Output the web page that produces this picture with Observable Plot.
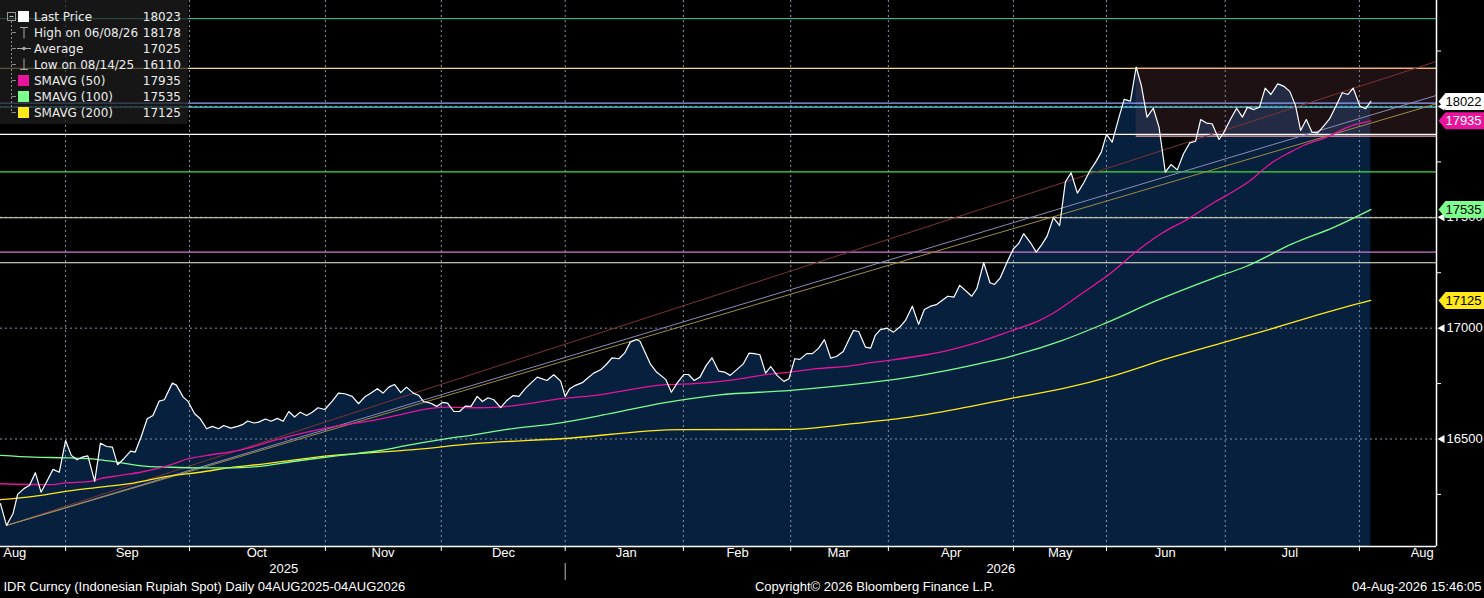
<!DOCTYPE html>
<html>
<head>
<meta charset="utf-8">
<script src="https://cdn.jsdelivr.net/npm/d3@7"></script>
<script src="https://cdn.jsdelivr.net/npm/@observablehq/plot@0.6"></script>
<style>
  html, body { margin: 0; padding: 0; background: #000; }
  #wrap { position: relative; width: 1484px; height: 598px; overflow: hidden; background: #000; }
  #legend { position: absolute; left: 0; top: 0; width: 188px; height: 124px;
    background: rgba(30,30,30,0.72); font-family: "DejaVu Sans", "Liberation Sans", sans-serif;
    font-size: 12px; color: #ececec; }
  #legend .row { position: absolute; left: 0; width: 188px; height: 16px; line-height: 16px; }
  #legend .lab { position: absolute; left: 34px; white-space: nowrap; }
  #legend .val { position: absolute; right: 7px; white-space: nowrap; }
  #legend .sq { position: absolute; left: 18px; top: 2px; width: 11px; height: 11px; }
  #legend svg { position: absolute; left: 0; top: 0; }
</style>
</head>
<body>
<div id="wrap">
  <div id="chart"></div>
  <div id="legend"></div>
</div>
<script>
// ---------- DATA (x = trading-session position, y = IDR per USD) ----------
const priceSess = [0,1.05,2.2,3.0,4.1,5.1,6.1,7.1,8.2,9.2,10.3,11.4,12.4,13.4,14.3,15.3,16.5,17.5,18.6,19.6,20.5,21.6,22.8,23.6,24.6,25.7,26.7,27.8,28.7,30.1,30.8,32.0,32.8,34.0,35.0,36.1,37.1,38.2,39.1,40.3,41.5,42.5,43.3,44.4,45.2,46.4,47.4,48.5,49.5,50.5,51.5,52.5,53.6,54.6,55.6,56.8,58.1,59.2,60.3,61.6,62.7,63.9,64.9,66.0,67.0,68.0,69.0,70.1,71.1,72.3,73.3,74.1,75.3,76.4,77.4,78.3,79.4,80.4,81.4,82.4,83.5,84.4,85.4,86.4,87.6,88.7,89.8,90.8,91.9,92.9,94.0,95.7,96.9,98.1,98.9,99.7,100.7,101.9,102.7,103.9,105.1,106.1,107.1,108.3,109.3,110.3,111.4,112.0,113.0,113.8,114.9,116.5,117.5,118.5,119.7,120.5,121.5,122.5,123.6,124.6,125.8,126.8,127.8,129.0,130.1,131.1,132.0,133.0,134.0,134.9,136.0,137.2,138.1,139.1,140.0,141.2,142.2,143.3,144.3,145.4,146.4,147.6,148.6,149.4,150.3,151.5,152.4,153.2,154.1,155.3,156.4,157.5,158.5,159.7,160.8,161.8,162.9,163.9,164.9,165.9,167.0,168.0,169.0,170.1,171.0,172.2,173.3,174.1,175.1,176.3,177.4,178.3,179.2,180.4,181.4,182.4,183.3,184.4,185.5,186.5,187.5,188.6,189.7,190.8,191.8,192.8,193.7,194.7,195.9,196.8,197.9,198.9,199.8,200.8,201.9,202.9,204.0,205.0,206.1,207.2,208.3,209.3,210.2,211.2,212.2,213.4,214.2,215.4,216.5,217.5,218.4,219.5,220.5,221.5,222.5,223.7,224.7,225.8,226.8,227.7,228.7,229.7,230.7,231.8,232.8,234.0,235.0,236.0,236.9,238.1,239.1,240.0];
const priceVal = [16208,16110,16164,16250,16276,16291,16348,16260,16313,16363,16350,16493,16426,16406,16418,16424,16309,16481,16466,16463,16384,16411,16445,16441,16508,16591,16606,16671,16677,16752,16743,16689,16671,16614,16591,16546,16557,16546,16561,16549,16557,16566,16581,16572,16576,16590,16580,16593,16580,16624,16599,16621,16606,16621,16641,16633,16671,16707,16704,16692,16659,16692,16707,16727,16707,16734,16746,16709,16734,16707,16696,16669,16662,16647,16665,16662,16624,16624,16648,16647,16692,16669,16686,16677,16641,16674,16696,16692,16727,16752,16779,16764,16790,16761,16692,16727,16742,16754,16772,16797,16812,16836,16866,16862,16887,16937,16949,16941,16885,16839,16802,16769,16711,16752,16791,16791,16764,16779,16832,16866,16806,16802,16787,16814,16839,16887,16885,16880,16797,16827,16787,16760,16772,16862,16859,16885,16885,16910,16948,16865,16872,16895,16949,16990,16985,16914,16910,16967,16993,17000,16982,17005,17035,17099,17017,17084,17099,17106,17125,17144,17140,17193,17170,17144,17178,17295,17205,17197,17227,17298,17358,17381,17426,17385,17343,17378,17415,17498,17463,17659,17701,17609,17655,17710,17749,17794,17874,17839,17952,18032,18024,18178,18095,17952,17992,17907,17704,17738,17714,17787,17836,17843,17941,17925,17922,17851,17880,17941,17992,17952,17997,17986,17997,18083,18054,18102,18092,18068,18005,17892,17941,17884,17881,17914,17945,18008,18062,18054,18083,18001,17990,18023];

const sma50Sess = [0,8.8,11,15.8,17.5,21,24.5,27.4,30.3,32.9,36.2,42,47.8,53.7,59.5,65.3,71.2,74.7,78.2,82.8,87.6,91.6,98.1,103.9,113.8,116.4,121.4,128.4,134.3,138.4,143,148.9,152.4,162.2,165.8,171.3,176.8,182,184.2,189.7,194.3,198.8,203.4,208,212.6,216.2,218.9,222.4,225.9,228.2,232.3,236.4,240];
const sma50Val  = [16298,16294,16301,16309,16321,16336,16350,16366,16388,16411,16426,16450,16493,16531,16561,16584,16617,16636,16644,16641,16644,16656,16682,16696,16737,16745,16750,16767,16791,16802,16817,16830,16844,16880,16899,16937,16986,17035,17065,17162,17245,17343,17428,17493,17568,17621,17666,17742,17794,17824,17862,17911,17935];

const sma100Sess = [0,5.8,11.7,17.5,20.4,25.7,29.2,35,40.8,43.8,52.5,59.5,66.5,71.2,77.1,82.9,88.7,98.1,107.2,116.4,125.6,138.4,149.4,158.5,171.3,176.8,186,193.3,202.5,212.6,218.1,226.3,233.6,240];
const sma100Val  = [16426,16418,16415,16406,16396,16376,16373,16370,16370,16373,16403,16426,16448,16471,16497,16519,16543,16573,16617,16664,16698,16719,16746,16776,16839,16872,16945,17020,17125,17227,17278,17381,17456,17535];

const sma200Sess = [0,5.8,11.7,17.5,23.3,29.2,35,40.8,43.8,57.8,72.4,82.9,98.1,119.1,138.4,149.4,158.5,167.7,176.8,186,195.2,204.3,213.5,222.6,231.8,240];
const sma200Val  = [16226,16241,16265,16283,16301,16331,16350,16373,16381,16425,16452,16479,16501,16542,16543,16569,16596,16636,16682,16727,16787,16862,16930,16997,17068,17125];

// horizontal study levels
const levelVals   = [18396, 18172, 18015, 17997, 17874, 17705, 17498, 17343, 17295];
const levelColors = ["#3fa98c", "#f3df78", "#8fa6ff", "#52d2e4", "#ffffff", "#3ee03e", "#e9e5bd", "#d27ad2", "#f4f2dc"];

// trend lines from the August low
const trendStart = [1.05, 16110];
const trendEndSess = 251.5;
const trendEndVals = [18203, 18050, 18012];
const trendColors  = ["#7e3434", "#8c8ab8", "#a08b45"];

// shaded box from the June high
const boxSess = [198.9, 251.5];
const boxVals = [17866, 18172];

// x axis
const xDomain = [0, 251.5];
const monthStarts = [11.4, 33.1, 56.9, 77.2, 98.9, 119.6, 138.4, 155.5, 177.4, 193.7, 214.5, 238];
const monthNames  = ["Aug","Sep","Oct","Nov","Dec","Jan","Feb","Mar","Apr","May","Jun","Jul","Aug"];
const monthLabelPos = [2.5, 22.2, 44.9, 67.0, 88.1, 109.6, 129.1, 146.8, 166.5, 185.6, 204.0, 225.8, 249.0];
const yearNames = ["2025", "2026"];
const yearLabelPos = [49.6, 175.2];
const yearBreak = [98.9];

// y axis
const yDomain = [16015, 18478];
const yMajor = [16500, 17000, 17500, 18000];
const yLabeled = [16500, 17000, 17500];
const yMinor = [16250, 16750, 17250, 17750, 18250];

// right-hand value tags
const tagVals  = [18022, 17935, 17535, 17125];
const tagFills = ["#ffffff", "#e8149c", "#7dff8e", "#ffe81c"];
const tagInk   = ["#000000", "#ffffff", "#000000", "#000000"];

// legend
const legendLabels = ["Last Price", "High on 06/08/26", "Average", "Low on 08/14/25", "SMAVG (50)", "SMAVG (100)", "SMAVG (200)"];
const legendValues = ["18023", "18178", "17025", "16110", "17935", "17535", "17125"];
const legendSwatch = ["#ffffff", "high", "avg", "low", "#e8149c", "#7dff8e", "#ffe81c"];

// footer
const footerLeft = "IDR Curncy (Indonesian Rupiah Spot) Daily 04AUG2025-04AUG2026";
const footerMid = "Copyright\u00A9 2026 Bloomberg Finance L.P.";
const footerRight = "04-Aug-2026 15:46:05";

// ---------- build ----------
const zip = (xs, ys) => xs.map((s, i) => ({s, v: ys[i]}));
const price = zip(priceSess, priceVal);
const sma50 = zip(sma50Sess, sma50Val);
const sma100 = zip(sma100Sess, sma100Val);
const sma200 = zip(sma200Sess, sma200Val);
const trends = trendEndVals.map((v, i) => ({x1: trendStart[0], y1: trendStart[1], x2: trendEndSess, y2: v, c: trendColors[i]}));
const levels = levelVals.map((v, i) => ({v, c: levelColors[i]}));
const tags = tagVals.map((v, i) => ({v, f: tagFills[i], t: tagInk[i]}));

const tagSymbol = { draw(ctx) {
  ctx.moveTo(-23, 0); ctx.lineTo(-16, -8.5); ctx.lineTo(25, -8.5); ctx.lineTo(25, 8.5); ctx.lineTo(-16, 8.5); ctx.closePath();
}};
const triLeft = { draw(ctx) {
  ctx.moveTo(-3, 0); ctx.lineTo(4, -4); ctx.lineTo(4, 4); ctx.closePath();
}};

const FONT = "'Liberation Sans', Arial, sans-serif";
const grid = "#8595a8";

const chart = Plot.plot({
  width: 1484, height: 598,
  marginLeft: 0, marginRight: 48, marginTop: 0, marginBottom: 52,
  x: {domain: xDomain, axis: null},
  y: {domain: yDomain, axis: null},
  color: {type: "identity"},
  style: {background: "#000", color: "#fff", fontFamily: FONT, fontSize: "13px", overflow: "visible"},
  marks: [
    Plot.areaY(price, {x: "s", y1: () => yDomain[0], y2: "v", fill: "#06203e"}),
    Plot.ruleX(monthStarts, {stroke: grid, strokeDasharray: "2,3", strokeWidth: 1}),
    Plot.ruleY(yMajor, {stroke: grid, strokeDasharray: "2,3", strokeWidth: 1}),
    Plot.rect([{x1: boxSess[0], x2: boxSess[1], y1: boxVals[0], y2: boxVals[1]}],
      {x1: "x1", x2: "x2", y1: "y1", y2: "y2", fill: "rgba(150,85,95,0.2)"}),
    Plot.ruleY(levels, {y: "v", stroke: "c", strokeWidth: 1.2}),
    Plot.ruleY([boxVals[1]], {x1: boxSess[0], x2: boxSess[1], stroke: "#f3b27a", strokeWidth: 1.4}),
    Plot.ruleY([boxVals[0]], {x1: boxSess[0], x2: boxSess[1], stroke: "#f3a3b6", strokeWidth: 1.4}),
    Plot.link(trends, {x1: "x1", y1: "y1", x2: "x2", y2: "y2", stroke: "c", strokeWidth: 1}),
    Plot.line(sma200, {x: "s", y: "v", stroke: "#ffe81c", strokeWidth: 1.3, curve: "monotone-x"}),
    Plot.line(sma100, {x: "s", y: "v", stroke: "#7dff8e", strokeWidth: 1.3, curve: "monotone-x"}),
    Plot.line(sma50, {x: "s", y: "v", stroke: "#e8149c", strokeWidth: 1.3, curve: "monotone-x"}),
    Plot.line(price, {x: "s", y: "v", stroke: "#ffffff", strokeWidth: 1.2}),
    // axes frame
    Plot.ruleY([yDomain[0]], {stroke: "#fff", strokeWidth: 1.5}),
    Plot.ruleX([xDomain[1]], {stroke: "#fff", strokeWidth: 1.5}),
    Plot.axisX({ticks: monthStarts, tickSize: 5, tickFormat: () => "", stroke: "#fff", label: null}),
    Plot.axisY({anchor: "right", ticks: yMinor, tickSize: 4, tickFormat: () => "", stroke: "#fff", label: null}),
    Plot.axisY({anchor: "right", ticks: yLabeled, tickSize: 0, tickPadding: 10, tickFormat: d => String(d), fill: "#fff", fontSize: 13, label: null}),
    Plot.dot(yMajor, {y: d => d, frameAnchor: "right", dx: 4, symbol: triLeft, fill: "#fff", stroke: "none"}),
    // value tags
    Plot.dot(tags, {y: "v", frameAnchor: "right", dx: 25, symbol: tagSymbol, fill: "f", stroke: "none"}),
    Plot.text(tags, {y: "v", text: d => String(d.v), frameAnchor: "right", dx: 27, fill: "t", fontSize: 13, textAnchor: "middle"}),
    // month / year labels
    Plot.text(monthNames, {x: (d, i) => monthLabelPos[i], text: d => d, frameAnchor: "bottom", dy: 10, fill: "#fff", fontSize: 13}),
    Plot.text(yearNames, {x: (d, i) => yearLabelPos[i], text: d => d, frameAnchor: "bottom", dy: 26, fill: "#fff", fontSize: 13}),
    Plot.ruleX(yearBreak, {y1: yDomain[0], y2: yDomain[0], insetTop: 17, insetBottom: -34, stroke: "#bbb"}),
    // footer
    Plot.text([footerLeft], {frameAnchor: "bottom-left", dx: 3, dy: 44, textAnchor: "start", fill: "#fff", fontSize: 13}),
    Plot.text([footerMid], {frameAnchor: "bottom", dx: 156, dy: 44, fill: "#fff", fontSize: 13}),
    Plot.text([footerRight], {frameAnchor: "bottom-right", dx: 45, dy: 44, textAnchor: "end", fill: "#fff", fontSize: 13})
  ]
});
document.getElementById("chart").appendChild(chart);

// ---------- legend ----------
const lg = document.getElementById("legend");
const ns = "http://www.w3.org/2000/svg";
const tree = document.createElementNS(ns, "svg");
tree.setAttribute("width", 40); tree.setAttribute("height", 124);
let treeSvg = `<rect x="7.5" y="12.5" width="8" height="8" fill="none" stroke="#999"/>` +
  `<line x1="9.5" y1="16.5" x2="13.5" y2="16.5" stroke="#bbb"/>` +
  `<line x1="11.5" y1="21" x2="11.5" y2="113" stroke="#888" stroke-dasharray="2,2"/>`;
legendLabels.forEach((lab, i) => {
  const cy = 16.5 + i * 16;
  if (i > 0) treeSvg += `<line x1="11.5" y1="${cy}" x2="16" y2="${cy}" stroke="#888"/>`;
  const sw = legendSwatch[i];
  if (sw === "high") treeSvg += `<line x1="20" y1="${cy-5}" x2="28" y2="${cy-5}" stroke="#aaa"/><line x1="24" y1="${cy-5}" x2="24" y2="${cy+6}" stroke="#aaa"/>`;
  else if (sw === "avg") treeSvg += `<line x1="17" y1="${cy}" x2="31" y2="${cy}" stroke="#aaa"/><circle cx="24" cy="${cy}" r="1.8" fill="#aaa"/>`;
  else if (sw === "low") treeSvg += `<line x1="20" y1="${cy+5}" x2="28" y2="${cy+5}" stroke="#aaa"/><line x1="24" y1="${cy-6}" x2="24" y2="${cy+5}" stroke="#aaa"/>`;
});
tree.innerHTML = treeSvg;
lg.appendChild(tree);
legendLabels.forEach((lab, i) => {
  const row = document.createElement("div");
  row.className = "row";
  row.style.top = (8.5 + i * 16) + "px";
  const sw = legendSwatch[i];
  if (sw.startsWith("#")) {
    const sq = document.createElement("div");
    sq.className = "sq"; sq.style.background = sw;
    row.appendChild(sq);
  }
  const l = document.createElement("span"); l.className = "lab"; l.textContent = lab;
  const v = document.createElement("span"); v.className = "val"; v.textContent = legendValues[i];
  row.appendChild(l); row.appendChild(v);
  lg.appendChild(row);
});
</script>
</body>
</html>
